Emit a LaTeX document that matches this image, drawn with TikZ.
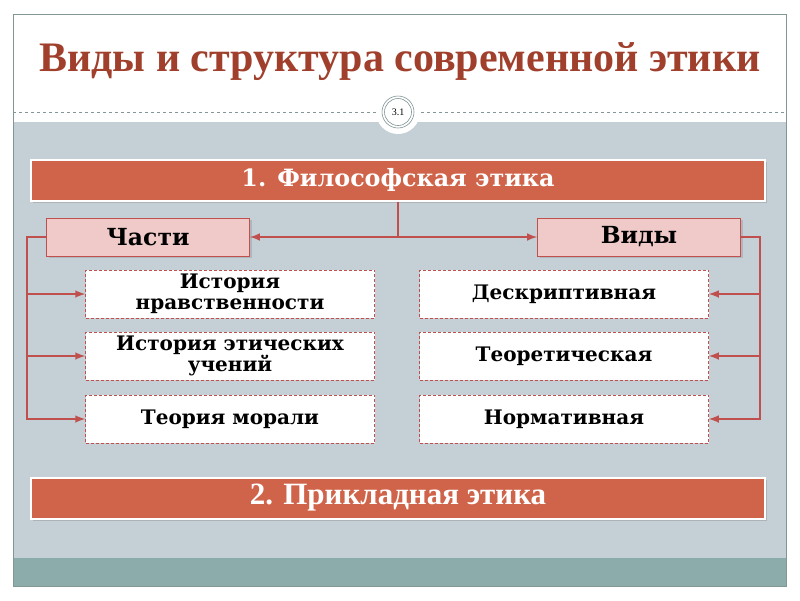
\documentclass[tikz,border=0pt]{standalone}
\usepackage{fontspec}
\setmainfont{Liberation Serif}
\newfontfamily\boxfont{DejaVu Serif}
\usetikzlibrary{shadows}

\definecolor{titlered}{RGB}{160,64,44}
\definecolor{brick}{RGB}{208,100,74}
\definecolor{rose}{RGB}{239,202,200}
\definecolor{roseline}{RGB}{192,80,77}
\definecolor{slate}{RGB}{197,208,214}
\definecolor{sea}{RGB}{140,172,172}
\definecolor{framegray}{RGB}{130,150,150}

\tikzset{
  mainbar/.style={rectangle,fill=brick,draw=white,line width=2pt,
    minimum width=734pt,minimum height=41pt,text=white,
    drop shadow={opacity=0.35}},
  headbox/.style={rectangle,fill=rose,draw=roseline,line width=0.8pt,
    minimum width=203pt,minimum height=38pt,
    font=\boxfont\fontsize{23.5}{25}\selectfont\bfseries,drop shadow={opacity=0.3}},
  itembox/.style={rectangle,fill=white,draw=roseline,densely dashed,line width=0.5pt,
    minimum width=289pt,minimum height=48pt,align=center,
    font=\boxfont\fontsize{20}{21}\selectfont\bfseries},
  conn/.style={draw=roseline,line width=2.4pt},
  arr/.style={conn,-latex}
}

\begin{document}
\begin{tikzpicture}[x=1pt,y=-1pt]

        % slide
        \useasboundingbox (0,0) rectangle (800,600);
        \fill[white] (0,0) rectangle (800,600);
        \fill[slate] (13,122) rectangle (786,558);
        \fill[sea] (13,558) rectangle (786,586);
        \draw[framegray,line width=0.8pt] (13,14) rectangle (786,586);
        \draw[framegray,dashed,line width=0.5pt] (13,112) -- (786,112);
        \fill[white] (398,112) circle (22);
        \draw[framegray,line width=0.6pt] (398,112) circle (16);
        \draw[framegray,line width=0.6pt] (398,112) circle (13.5);

        \node (num) at (398,112) {\fontsize{10}{10}\selectfont 3.1};
        \node[text=titlered,font=\fontsize{42}{44}\selectfont\bfseries] (title) at (400,62)
          {Виды и структура современной этики};

        \node[mainbar,font=\boxfont\fontsize{23.8}{25}\selectfont\bfseries] (phil) at (398,180)
          {1. Философская этика};
        \node[mainbar,font=\fontsize{31}{33}\selectfont\bfseries] (appl) at (398,498)
          {2. Прикладная этика};

        \begin{scope}[every node/.style={headbox}]
          \node (parts) at (148,237) {Части};
          \node (kinds) at (639,237) {Виды};
        \end{scope}

        \begin{scope}[every node/.style={itembox}]
          \node (h1) at (230,294) {История\\нравственности};
          \node (h2) at (230,356) {История этических\\учений};
          \node (h3) at (230,419) {Теория морали};
          \node (k1) at (564,294) {Дескриптивная};
          \node (k2) at (564,356) {Теоретическая};
          \node (k3) at (564,419) {Нормативная};
        \end{scope}

        \coordinate (split) at (398,237);
        \coordinate (lbus) at (27,237);
        \coordinate (rbus) at (760,237);

        \path[conn] (phil.south) -- (split);
        \path[arr] (split) -- (parts.east);
        \path[arr] (split) -- (kinds.west);

        \path[arr] (parts.west) -- (lbus) |- (h3.west);
        \path[arr] (lbus |- h1.west) -- (h1.west);
        \path[arr] (lbus |- h2.west) -- (h2.west);

        \path[arr] (kinds.east) -- (rbus) |- (k3.east);
        \path[arr] (rbus |- k1.east) -- (k1.east);
        \path[arr] (rbus |- k2.east) -- (k2.east);

      \end{tikzpicture}
\end{document}
